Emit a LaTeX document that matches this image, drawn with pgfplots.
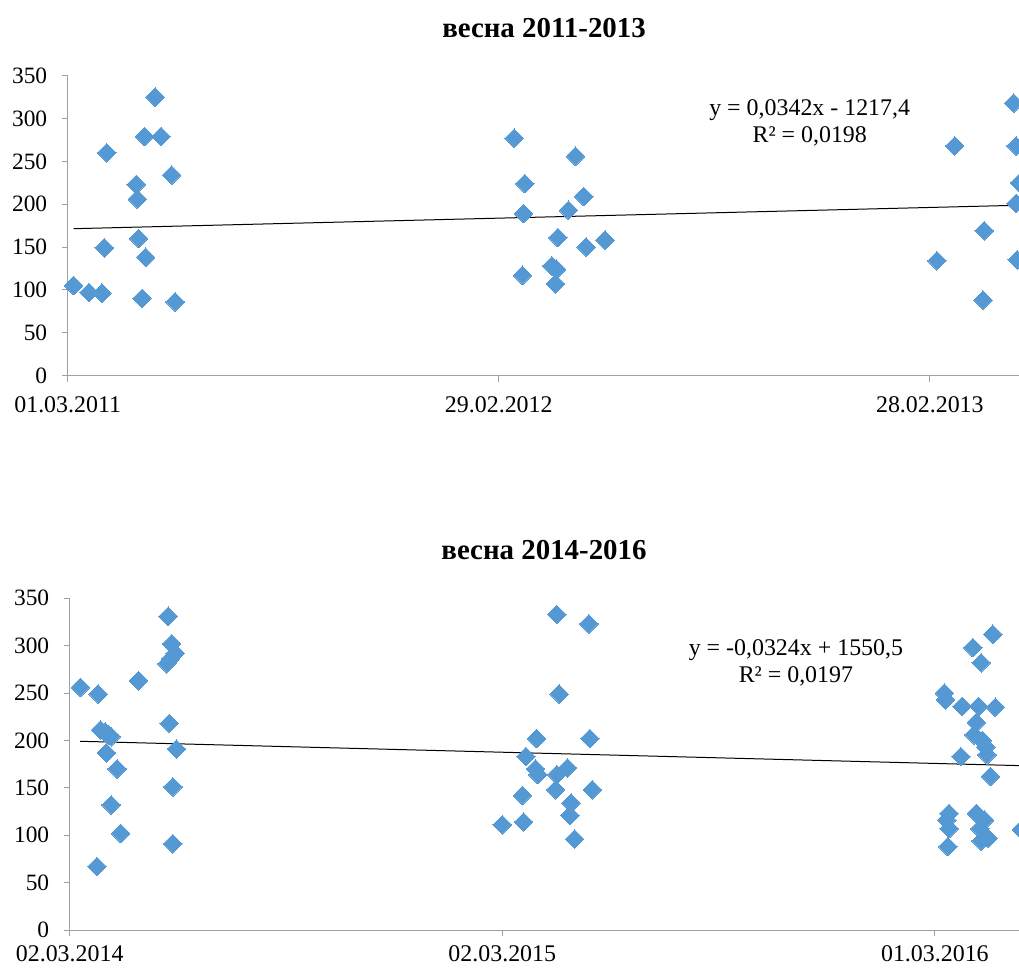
\documentclass[border=0pt]{standalone}
\usepackage{fontspec}
\setmainfont{Liberation Serif}
\usepackage{pgfplots}
\pgfplotsset{compat=1.18}

\definecolor{ptblue}{RGB}{84,152,212}
\definecolor{axgray}{RGB}{160,160,160}

\newcommand{\tickfont}{\fontsize{23.5}{27}\selectfont}
\newcommand{\datefont}{\fontsize{24}{28}\selectfont}
\newcommand{\eqfont}{\fontsize{24}{27.5}\selectfont}
\newcommand{\titlefont}{\fontsize{29}{33}\selectfont\bfseries}

\pgfplotsset{
  season/.style={
    scale only axis,
    anchor=south west,
    axis x line=bottom,
    axis y line=left,
    axis line style={axgray, line width=1bp, -},
    tick style={axgray, line width=1bp},
    major tick length=6bp,
    tick align=outside,
    ymin=0, ymax=350,
    ytick={0,50,...,350},
    scaled x ticks=false,
    /pgf/number format/assume math mode=true,
    yticklabel style={font=\tickfont, xshift=-11bp},
    xticklabel style={font=\datefont},
    clip=false,
  },
  pts/.style={only marks, mark=square*, mark size=6.6bp,
    mark options={rotate=45, fill=ptblue, draw=ptblue, line width=0pt}},
  trend/.style={black, line width=1bp, mark=none},
}

\begin{document}
\begin{tikzpicture}
\path[use as bounding box] (0,0) rectangle (1019bp,-970bp);

% ---------- spring 2011-2013 ----------
\node[font=\titlefont] at (544bp,-28bp) {весна 2011-2013};
\begin{axis}[season,
  at={(67.7bp,-375.5bp)},
  width=951.3bp, height=299.8bp,
  xmin=40603, xmax=41408.5,
  xtick={40603,40968,41333},
  xticklabels={01.03.2011,29.02.2012,28.02.2013},
  xticklabel style={yshift=-12bp},
]
\addplot[pts] table {
x y
40608 105
40621 97
40632 96
40636 260
40634 149
40661 223
40662 206
40663 160
40666 90
40668 279
40669 138
40677 325
40682 279
40691 234
40694 86
40981 277
41033 256
40990 224
41040 209
40989 189
41027 193
41018 161
41042 150
41058 158
41013 128
41017 124
40988 117
41016 107
41404 318
41354 268
41406 268
41409 225
41406 201
41379 169
41339 134
41407 135
41378 88
};
\addplot[trend] coordinates {(40608,171.39) (41408.5,198.77)};
\node[font=\eqfont, align=center, inner sep=0pt] at (rel axis cs:0.780,0.842)
  {y = 0,0342x - 1217,4\\R² = 0,0198};
\end{axis}

% ---------- spring 2014-2016 ----------
\node[font=\titlefont] at (544bp,-550bp) {весна 2014-2016};
\begin{axis}[season,
  at={(69.7bp,-930bp)},
  width=949.3bp, height=331.7bp,
  xmin=41700, xmax=42501,
  xtick={41700,42065,42430},
  xticklabels={02.03.2014,02.03.2015,01.03.2016},
  xticklabel style={yshift=-6bp},
]
\addplot[pts] table {
x y
41709 256
41724 249
41723 67
41726 211
41730 209
41733 206
41735 204
41731 187
41740 170
41735 132
41743 102
41758 263
41783 331
41786 302
41789 292
41782 281
41785 286
41784 218
41790 191
41787 151
41787 91
42111 333
42138 323
42113 249
42094 202
42139 202
42085 183
42093 170
42095 164
42111 164
42120 171
42110 148
42141 148
42082 142
42123 134
42122 121
42083 114
42065 111
42126 96
42479 312
42462 298
42469 282
42438 250
42439 243
42453 236
42467 236
42481 235
42465 219
42463 206
42470 200
42473 193
42474 185
42452 183
42477 162
42442 123
42440 116
42442 107
42465 123
42472 116
42468 107
42475 97
42469 94
42441 88
42503 106
};
\addplot[trend] coordinates {(41708.7,199.14) (42501,173.47)};
\node[font=\eqfont, align=center, inner sep=0pt] at (rel axis cs:0.765,0.805)
  {y = -0,0324x + 1550,5\\R² = 0,0197};
\end{axis}
\end{tikzpicture}
\end{document}
